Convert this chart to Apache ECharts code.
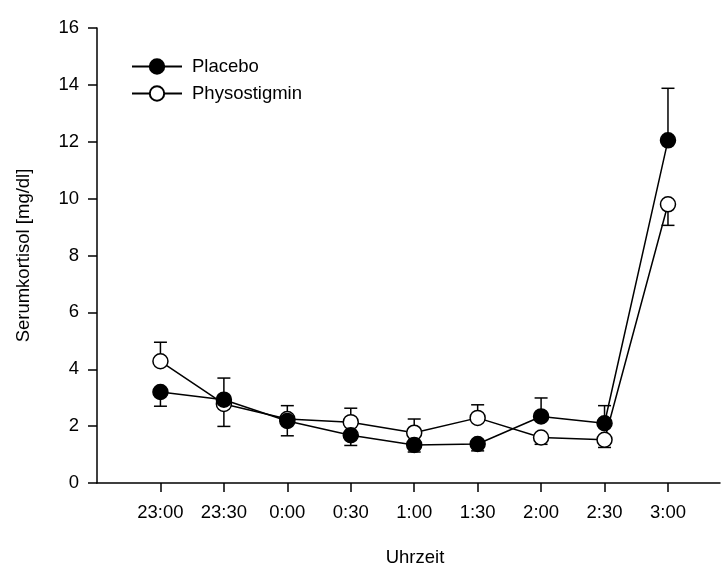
<!DOCTYPE html>
<html>
<head>
<meta charset="utf-8">
<script src="https://cdn.jsdelivr.net/npm/echarts@6/dist/echarts.min.js"></script>
<style>html,body{margin:0;padding:0;background:#fff}#c{width:723px;height:570px}</style>
</head>
<body>
<div id="c"></div>
<script>
const categories = ['23:00','23:30','0:00','0:30','1:00','1:30','2:00','2:30','3:00'];
const placebo = [3.2, 2.93, 2.18, 1.68, 1.34, 1.37, 2.34, 2.1, 12.05];
const placeboErr = [0.5, 0.76, 0.52, 0.36, 0.25, 0.24, 0.65, 0.62, 1.83];
const placeboErrDir = [-1, 1, -1, -1, -1, -1, 1, 1, 1];
const physo = [4.28, 2.78, 2.25, 2.14, 1.77, 2.29, 1.6, 1.52, 9.8];
const physoErr = [0.67, 0.79, 0.47, 0.49, 0.48, 0.46, 0.24, 0.27, 0.74];
const physoErrDir = [1, -1, 1, 1, 1, 1, -1, -1, -1];
const yTicks = [0, 2, 4, 6, 8, 10, 12, 14, 16];

const FONT = 'Liberation Sans, Arial, sans-serif';
const FS = 18.5;
const chart = echarts.init(document.getElementById('c'), null, {renderer: 'canvas'});

function errData(vals, errs, dirs) {
  return vals.map((v, i) => [i, v, v + dirs[i] * errs[i]]);
}
function errRender(params, api) {
  const x = api.value(0), y = api.value(1), e = api.value(2);
  const p0 = api.coord([x, y]);
  const p1 = api.coord([x, e]);
  const hw = 6.5;
  return {
    type: 'group',
    children: [
      {type: 'line', shape: {x1: p0[0], y1: p0[1], x2: p1[0], y2: p1[1]}, style: {stroke: '#000', lineWidth: 1.5}},
      {type: 'line', shape: {x1: p1[0] - hw, y1: p1[1], x2: p1[0] + hw, y2: p1[1]}, style: {stroke: '#000', lineWidth: 1.5}}
    ]
  };
}

chart.setOption({
  backgroundColor: '#fff',
  animation: false,
  grid: {left: 97, right: 3, top: 28, bottom: 87, outerBoundsMode: 'none', containLabel: false},
  legend: {
    left: 126, top: 52, orient: 'vertical', itemGap: 8,
    itemWidth: 50, itemHeight: 18,
    data: ['Placebo', 'Physostigmin'],
    textStyle: {fontFamily: FONT, fontSize: FS, color: '#000', padding: [0, 0, 0, 5]}
  },
  xAxis: {
    type: 'value', min: -1, max: 8.82, interval: 1,
    name: 'Uhrzeit', nameLocation: 'middle', nameGap: 65,
    nameTextStyle: {fontFamily: FONT, fontSize: FS, color: '#000', padding: [0, 0, 0, 13]},
    axisLine: {show: true, onZero: false, lineStyle: {color: '#000', width: 1.5}},
    axisTick: {show: true, inside: false, length: 9, lineStyle: {color: '#000', width: 1.5}, customValues: categories.map((c, i) => i)},
    axisLabel: {margin: 20, fontFamily: FONT, fontSize: FS, color: '#000', customValues: categories.map((c, i) => i),
      formatter: v => categories[Math.round(v)] || ''},
    splitLine: {show: false}
  },
  yAxis: {
    type: 'value', min: 0, max: 16, interval: 2,
    name: 'Serumkortisol [mg/dl]', nameLocation: 'middle', nameGap: 64, nameRotate: 90,
    nameTextStyle: {fontFamily: FONT, fontSize: FS, color: '#000'},
    axisLine: {show: true, onZero: false, lineStyle: {color: '#000', width: 1.5}},
    axisTick: {show: true, inside: false, length: 9, lineStyle: {color: '#000', width: 1.5}},
    axisLabel: {margin: 18, fontFamily: FONT, fontSize: FS, color: '#000', customValues: yTicks},
    splitLine: {show: false}
  },
  series: [
    {type: 'custom', name: 'errPlacebo', renderItem: errRender, data: errData(placebo, placeboErr, placeboErrDir), z: 1, silent: true},
    {type: 'custom', name: 'errPhyso', renderItem: errRender, data: errData(physo, physoErr, physoErrDir), z: 1, silent: true},
    {
      type: 'line', name: 'Placebo', data: placebo.map((v, i) => [i, v]),
      symbol: 'circle', symbolSize: 15, showAllSymbol: true,
      lineStyle: {color: '#000', width: 1.5},
      itemStyle: {color: '#000', borderColor: '#000', borderWidth: 1.5},
      z: 3
    },
    {
      type: 'line', name: 'Physostigmin', data: physo.map((v, i) => [i, v]),
      symbol: 'circle', symbolSize: 15, showAllSymbol: true,
      lineStyle: {color: '#000', width: 1.5},
      itemStyle: {color: '#fff', borderColor: '#000', borderWidth: 1.5},
      z: 2
    }
  ]
});
</script>
</body>
</html>
